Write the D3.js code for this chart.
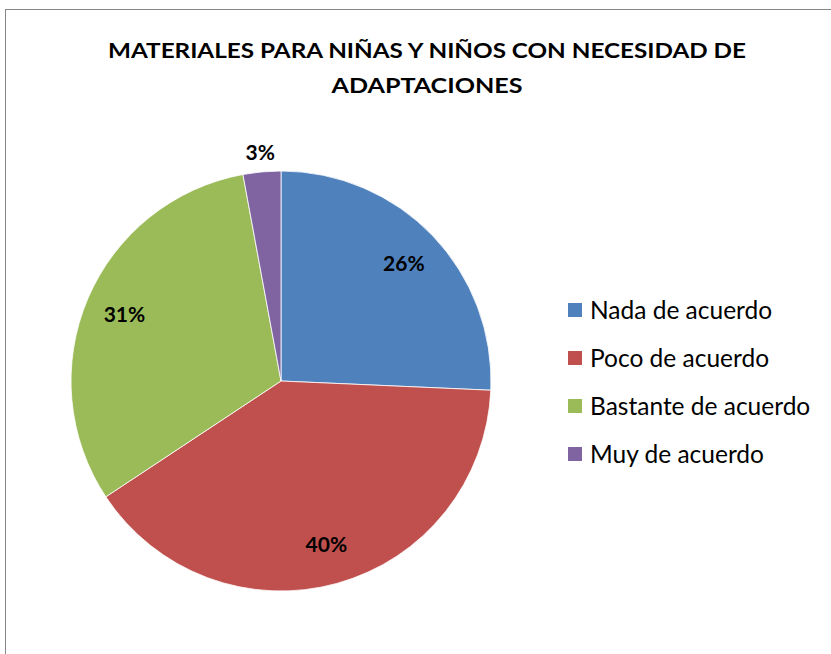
<!DOCTYPE html>
<html>
<head>
<meta charset="utf-8">
<script src="https://cdn.jsdelivr.net/npm/d3@7"></script>
<style>
  body { margin: 0; background: #fff; }
  text { font-family: Lato, "Open Sans", sans-serif; fill: #000; }
</style>
</head>
<body>
<script>
let titleLines = ['MATERIALES PARA NIÑAS Y NIÑOS CON NECESIDAD DE', 'ADAPTACIONES']
let categories = ['Nada de acuerdo', 'Poco de acuerdo', 'Bastante de acuerdo', 'Muy de acuerdo']
let shares = [25.7, 40.0, 31.4, 2.9]
let colors = ['#4F81BD', '#C0504D', '#9BBB59', '#8064A2']

function main () {
  let width = 831
  let height = 654
  let svg = d3.select('body').append('svg')
    .attr('width', width)
    .attr('height', height)

  // chart frame (right and bottom edges fall outside the window)
  svg.append('rect')
    .attr('x', 5.5).attr('y', 9.5)
    .attr('width', 900).attr('height', 900)
    .attr('fill', '#fff')
    .attr('stroke', '#868686')
    .attr('stroke-width', 1)

  let titleWidths = [638, 191]
  svg.append('g').selectAll('text')
    .data(titleLines)
    .enter().append('text')
    .attr('x', 427)
    .attr('y', (d, i) => 58 + i * 35)
    .attr('text-anchor', 'middle')
    .attr('font-size', 21.5)
    .attr('font-weight', 'bold')
    .attr('textLength', (d, i) => titleWidths[i])
    .attr('lengthAdjust', 'spacingAndGlyphs')
    .text(d => d)

  let radius = 210
  let center = {x: 281, y: 381}
  let pie = d3.pie().sort(null).value(d => d)
  let arcs = pie(shares)
  let arc = d3.arc().innerRadius(0).outerRadius(radius)
  let labelArc = d3.arc().innerRadius(radius * 0.81).outerRadius(radius * 0.81)
  let outerLabelArc = d3.arc().innerRadius(radius * 1.09).outerRadius(radius * 1.09)

  let pieG = svg.append('g')
    .attr('transform', `translate(${center.x}, ${center.y})`)
  pieG.selectAll('path')
    .data(arcs)
    .enter().append('path')
    .attr('d', arc)
    .attr('fill', (d, i) => colors[i])
    .attr('stroke', '#fff')
    .attr('stroke-width', 0.8)

  pieG.selectAll('text')
    .data(arcs)
    .enter().append('text')
    .attr('transform', d => {
      let c = (d.data < 5 ? outerLabelArc : labelArc).centroid(d)
      return `translate(${c[0]}, ${c[1]})`
    })
    .attr('dy', '0.35em')
    .attr('text-anchor', 'middle')
    .attr('font-size', 21)
    .attr('font-weight', 'bold')
    .text(d => `${Math.round(d.data)}%`)

  let legend = svg.append('g')
    .attr('transform', 'translate(568, 310)')
  let rows = legend.selectAll('g')
    .data(categories)
    .enter().append('g')
    .attr('transform', (d, i) => `translate(0, ${i * 48})`)
  rows.append('rect')
    .attr('x', 0).attr('y', -7)
    .attr('width', 14).attr('height', 14)
    .attr('fill', (d, i) => colors[i])
  rows.append('text')
    .attr('x', 22)
    .attr('y', 0)
    .attr('dy', '0.35em')
    .attr('font-size', 24.5)
    .text(d => d)
}

main()
</script>
</body>
</html>
